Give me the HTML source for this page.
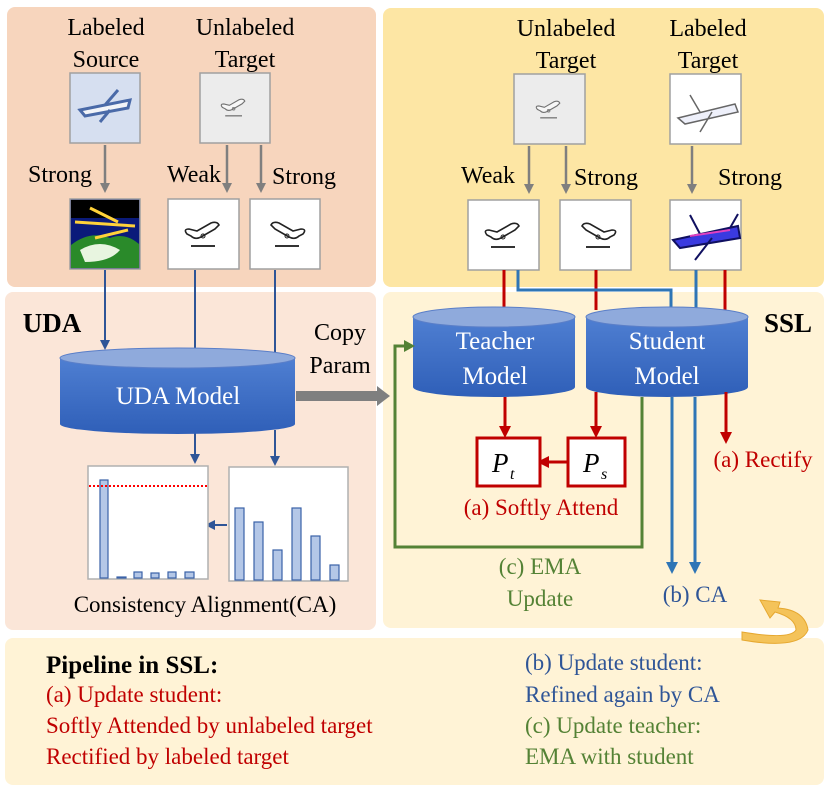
<!DOCTYPE html>
<html><head><meta charset="utf-8"><style>
html,body{margin:0;padding:0;background:#fff;}
svg{display:block;font-family:'Liberation Serif','Times New Roman','DejaVu Serif',serif;}
svg text{font-family:'Liberation Serif','Times New Roman','DejaVu Serif',serif !important;}
</style></head><body>
<svg width="830" height="791" viewBox="0 0 830 791" xmlns="http://www.w3.org/2000/svg">
<defs>
<linearGradient id="cyl" x1="0" y1="0" x2="0" y2="1">
<stop offset="0" stop-color="#4f7fd2"/><stop offset="1" stop-color="#2f5fb8"/>
</linearGradient>
<g id="plane"><path d="M-18,2 q-4,-5 2,-5 l8,2 l14,-8 q6,-2 8,2 l-4,4 l-14,8 q-6,3 -10,-1z" fill="#fff" stroke="#222" stroke-width="1.6"/><circle cx="-2" cy="4" r="2" fill="none" stroke="#222"/><line x1="-14" y1="14" x2="10" y2="14" stroke="#333" stroke-width="2"/></g>
</defs>
<rect x="7" y="7" width="369" height="280" rx="8" fill="#f7d5bd"/>
<rect x="5" y="292" width="371" height="338" rx="8" fill="#fbe6d8"/>
<rect x="383" y="8" width="441" height="279" rx="8" fill="#fde6a4"/>
<rect x="383" y="292" width="441" height="336" rx="8" fill="#fff3d6"/>
<rect x="5" y="638" width="819" height="147" rx="8" fill="#fff3d6"/>

<g font-size="24" fill="#000" text-anchor="middle">
<text x="106" y="35">Labeled</text><text x="106" y="67">Source</text>
<text x="245" y="35">Unlabeled</text><text x="245" y="67">Target</text>
<text x="566" y="36">Unlabeled</text><text x="566" y="68">Target</text>
<text x="708" y="36">Labeled</text><text x="708" y="68">Target</text>
<text x="60" y="182">Strong</text>
<text x="194" y="182">Weak</text>
<text x="304" y="184">Strong</text>
<text x="488" y="183">Weak</text>
<text x="606" y="185">Strong</text>
<text x="750" y="185">Strong</text>
<text x="340" y="340">Copy</text><text x="340" y="373">Param</text>
</g>
<g font-size="27" font-weight="bold" text-anchor="middle"><text x="52" y="332">UDA</text><text x="788" y="332">SSL</text></g>

<g stroke="#7f7f7f" stroke-width="2.5">
<line x1="105" y1="145" x2="105" y2="184"/>
<line x1="227" y1="145" x2="227" y2="184"/>
<line x1="261" y1="145" x2="261" y2="184"/>
<line x1="529" y1="146" x2="529" y2="185"/>
<line x1="566" y1="146" x2="566" y2="185"/>
<line x1="692" y1="146" x2="692" y2="185"/>
</g>
<g fill="#7f7f7f">
<path d="M100,183 L110,183 L105,193Z"/><path d="M222,183 L232,183 L227,193Z"/><path d="M256,183 L266,183 L261,193Z"/>
<path d="M524,184 L534,184 L529,194Z"/><path d="M561,184 L571,184 L566,194Z"/><path d="M687,184 L697,184 L692,194Z"/>
</g>

<g stroke="#a0a0a0" stroke-width="1.5">
<rect x="70" y="73" width="70" height="70" fill="#d6dff0"/>
<rect x="200" y="73" width="70" height="70" fill="#ececec"/>
<rect x="70" y="199" width="70" height="70" fill="#0a1a7a"/>
<rect x="168" y="199" width="71" height="70" fill="#fff"/>
<rect x="250" y="199" width="70" height="70" fill="#fff"/>
<rect x="514" y="74" width="71" height="70" fill="#ececec"/>
<rect x="670" y="74" width="71" height="70" fill="#fff"/>
<rect x="468" y="200" width="71" height="70" fill="#fff"/>
<rect x="560" y="200" width="71" height="70" fill="#fff"/>
<rect x="670" y="200" width="71" height="70" fill="#fff"/>
</g>
<rect x="71" y="200" width="68" height="18" fill="#000"/>
<path d="M71,245 Q90,230 110,238 Q125,232 139,244 L139,268 L71,268Z" fill="#2a8a2a"/>
<path d="M80,250 Q100,238 120,250 Q110,262 85,262Z" fill="#e8f5e0"/>
<path d="M75,222 L135,226 M90,208 L118,222 M95,238 L128,230" stroke="#ffd23a" stroke-width="3"/>
<path d="M80,110 L130,100 L128,108 L85,116Z M105,105 L118,90 M110,110 L100,122" stroke="#4a6aa8" stroke-width="3" fill="#f2f4f8"/>
<g transform="translate(235,106) scale(0.7)" opacity="0.6"><use href="#plane"/></g>
<g transform="translate(205,232)"><use href="#plane"/></g>
<g transform="translate(285,232) scale(-1,1)"><use href="#plane"/></g>
<g transform="translate(550,108) scale(0.7)" opacity="0.6"><use href="#plane"/></g>
<g transform="translate(505,233)"><use href="#plane"/></g>
<g transform="translate(596,233) scale(-1,1)"><use href="#plane"/></g>
<path d="M678,118 L735,104 L738,112 L685,124Z M700,112 L690,95 M712,112 L700,132" stroke="#666" stroke-width="1.5" fill="#eef0fa"/>
<path d="M673,240 L738,226 L740,238 L680,248Z M700,234 L690,215 M712,238 L695,260 M730,228 L738,214" stroke="#101060" stroke-width="2" fill="#3a3ae0"/>
<path d="M690,236 L730,230" stroke="#e040c0" stroke-width="2"/>

<g stroke="#2f5597" stroke-width="2" fill="none">
<line x1="105" y1="270" x2="105" y2="342"/>
<line x1="195" y1="270" x2="195" y2="350"/>
<line x1="275" y1="270" x2="275" y2="352"/>
<line x1="195" y1="430" x2="195" y2="456"/>
<line x1="275" y1="430" x2="275" y2="458"/>
<line x1="227" y1="525" x2="212" y2="525"/>
</g>
<g fill="#2f5597">
<path d="M100,340 L110,340 L105,350Z"/>
<path d="M190,454 L200,454 L195,464Z"/>
<path d="M270,456 L280,456 L275,466Z"/>
<path d="M205,525 L215,520 L215,530Z"/>
</g>

<path d="M60,358 L60,424 A117.5,10 0 0 0 295,424 L295,358Z" fill="url(#cyl)"/>
<ellipse cx="177.5" cy="358" rx="117.5" ry="10" fill="#8faadc" stroke="#5b7fc8" stroke-width="1"/>
<text x="178" y="404" font-size="25" fill="#fff" text-anchor="middle">UDA Model</text>

<path d="M296,391 L377,391 L377,386 L390,396 L377,406 L377,401 L296,401Z" fill="#7f7f7f"/>

<rect x="88" y="466" width="120" height="113" fill="#fff" stroke="#b0b0b0" stroke-width="1.5"/>
<rect x="229" y="467" width="119" height="114" fill="#fff" stroke="#b0b0b0" stroke-width="1.5"/>
<g fill="#b4c7e7" stroke="#3a62a8" stroke-width="1.2">
<rect x="100" y="480" width="8" height="98"/>
<rect x="117" y="577" width="9" height="1"/>
<rect x="134" y="572" width="8" height="6"/>
<rect x="151" y="573" width="8" height="5"/>
<rect x="168" y="572" width="8" height="6"/>
<rect x="185" y="572" width="9" height="6"/>
<rect x="235" y="508" width="9" height="72"/>
<rect x="254" y="522" width="9" height="58"/>
<rect x="273" y="550" width="9" height="30"/>
<rect x="292" y="508" width="9" height="72"/>
<rect x="311" y="536" width="9" height="44"/>
<rect x="330" y="565" width="9" height="15"/>
</g>
<line x1="89" y1="486" x2="207" y2="486" stroke="#ff0000" stroke-width="2" stroke-dasharray="2,2"/>
<text x="205" y="612" font-size="23" text-anchor="middle">Consistency Alignment(CA)</text>

<g fill="none" stroke-width="3">
<line x1="504" y1="270" x2="504" y2="310" stroke="#c00000"/>
<line x1="596" y1="270" x2="596" y2="310" stroke="#c00000"/>
<line x1="725" y1="270" x2="725" y2="310" stroke="#c00000"/>
<polyline points="518,270 518,290 671,290 671,310" stroke="#2e75b6"/>
<line x1="696" y1="270" x2="696" y2="310" stroke="#2e75b6"/>
</g>

<path d="M413,317 L413,387 A81,10 0 0 0 575,387 L575,317Z" fill="url(#cyl)"/>
<ellipse cx="494" cy="317" rx="81" ry="10" fill="#8faadc" stroke="#5b7fc8"/>
<path d="M586,317 L586,387 A81,10 0 0 0 748,387 L748,317Z" fill="url(#cyl)"/>
<ellipse cx="667" cy="317" rx="81" ry="10" fill="#8faadc" stroke="#5b7fc8"/>
<g font-size="25" fill="#fff" text-anchor="middle">
<text x="495" y="349">Teacher</text><text x="495" y="384">Model</text>
<text x="667" y="349">Student</text><text x="667" y="384">Model</text>
</g>

<g fill="none" stroke-width="3">
<line x1="505" y1="397" x2="505" y2="428" stroke="#c00000"/>
<line x1="596" y1="392" x2="596" y2="428" stroke="#c00000"/>
<line x1="726" y1="392" x2="726" y2="434" stroke="#c00000"/>
<line x1="567" y1="462" x2="548" y2="462" stroke="#c00000"/>
<line x1="672" y1="397" x2="672" y2="564" stroke="#2e75b6"/>
<line x1="695" y1="397" x2="695" y2="564" stroke="#2e75b6"/>
<polyline points="642,397 642,547 395,547 395,346 406,346" stroke="#548235"/>
</g>
<g fill="#c00000">
<path d="M499,426 L511,426 L505,438Z"/>
<path d="M590,426 L602,426 L596,438Z"/>
<path d="M720,432 L732,432 L726,444Z"/>
<path d="M537,462 L549,456 L549,468Z"/>
</g>
<g fill="#2e75b6">
<path d="M666,562 L678,562 L672,574Z"/>
<path d="M689,562 L701,562 L695,574Z"/>
</g>
<path d="M415,346 L404,340 L404,352Z" fill="#548235"/>
<rect x="477" y="438" width="63" height="48" fill="#fff" stroke="#c00000" stroke-width="3"/>
<rect x="568" y="438" width="57" height="48" fill="#fff" stroke="#c00000" stroke-width="3"/>
<text x="492" y="472" font-size="27" font-style="italic">P</text><text x="510" y="479" font-size="16" font-style="italic">t</text>
<text x="583" y="472" font-size="27" font-style="italic">P</text><text x="601" y="479" font-size="16" font-style="italic">s</text>

<g font-size="23" text-anchor="middle">
<text x="763" y="467" fill="#c00000">(a) Rectify</text>
<text x="541" y="515" fill="#c00000">(a) Softly Attend</text>
<text x="540" y="574" fill="#548235">(c) EMA</text>
<text x="540" y="606" fill="#548235">Update</text>
<text x="695" y="602" fill="#2f5597">(b) CA</text>
</g>

<path d="M742,640 Q800,650 808,630 Q805,610 778,608 L780,602 L760,600 L770,618 L775,612 Q796,618 796,630 Q790,640 742,632Z" fill="#f4c35a" stroke="#e6a830" stroke-width="1"/>

<text x="46" y="673" font-size="25" font-weight="bold">Pipeline in SSL:</text>
<g font-size="23" fill="#c00000">
<text x="46" y="702">(a) Update student:</text>
<text x="46" y="733">Softly Attended by unlabeled target</text>
<text x="46" y="764">Rectified by labeled target</text>
</g>
<g font-size="23">
<text x="525" y="670" fill="#2f5597">(b) Update student:</text>
<text x="525" y="702" fill="#2f5597">Refined again by CA</text>
<text x="525" y="733" fill="#548235">(c) Update teacher:</text>
<text x="525" y="764" fill="#548235">EMA with student</text>
</g>
</svg>
</body></html>
